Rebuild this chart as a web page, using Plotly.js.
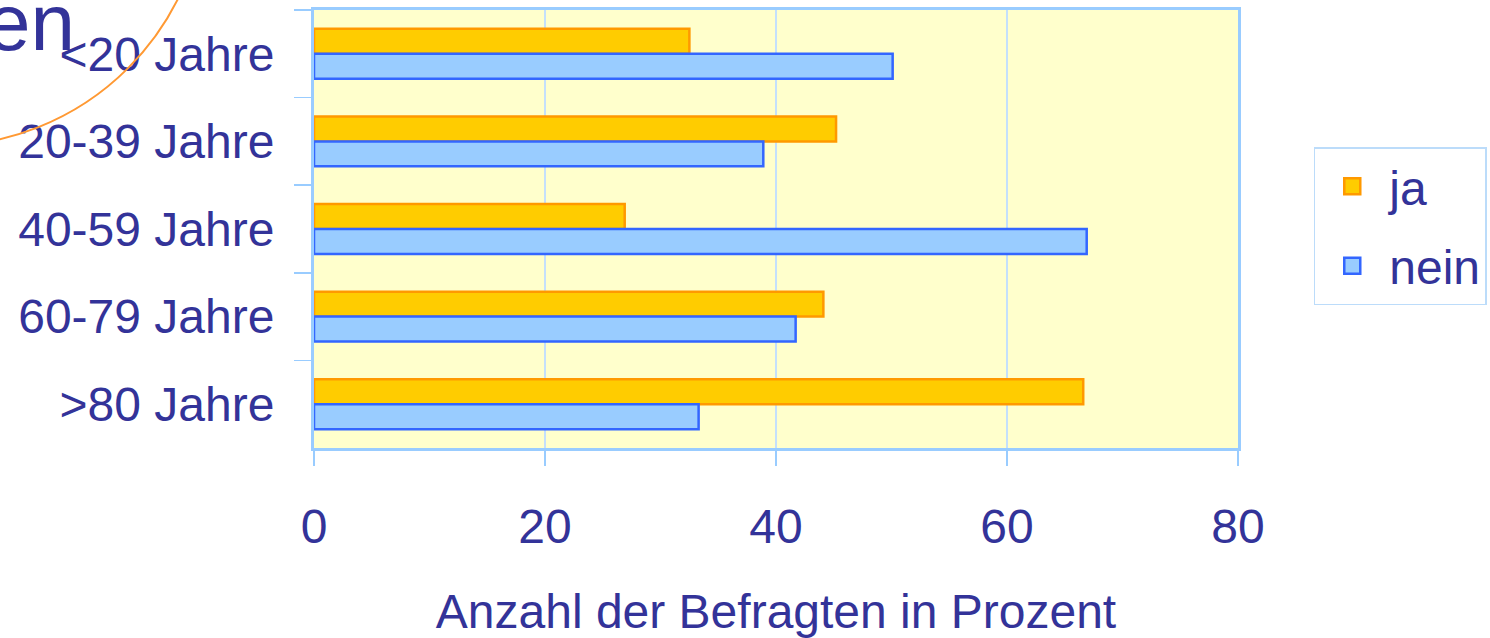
<!DOCTYPE html>
<html>
<head>
<meta charset="utf-8">
<script src="https://cdn.plot.ly/plotly-3.0.1.min.js"></script>
<style>
  html, body { margin: 0; padding: 0; background: #ffffff; }
  #chart { width: 1490px; height: 638px; }
</style>
</head>
<body>
<div id="chart"></div>
<script>
// Age groups vs. answer share (percent of respondents)

const AGE_GROUPS = ['<20 Jahre', '20-39 Jahre', '40-59 Jahre', '60-79 Jahre', '>80 Jahre'];
const JA_VALUES   = [32.5, 45.2, 26.9, 44.1, 66.6];
const NEIN_VALUES = [50.1, 38.9, 66.9, 41.7, 33.3];
const X_TICKS = [0, 20, 40, 60, 80];

const COLORS = {
    text:      '#333399',
    jaFill:    '#ffcc00',
    jaLine:    '#ff9900',
    neinFill:  '#99ccff',
    neinLine:  '#3366ff',
    plotBg:    '#ffffcc',
    frame:     '#99ccff',
    grid:      '#c4e0fb',
    arc:       '#ff9933',
};

const FONT = { family: 'Liberation Sans, Arial, sans-serif', size: 48, color: COLORS.text };

function barTrace(name, values, fill, line) {
    return {
        type: 'bar', orientation: 'h', name,
        y: AGE_GROUPS, x: values,
        marker: { color: fill, line: { color: line, width: 2.5 } },
        showlegend: false,
    };
}

// legend-only entries so the swatches can be larger squares
function legendTrace(name, fill, line, group) {
    return {
        type: 'scatter', mode: 'markers', name,
        x: [null], y: [null],
        legendgroup: group,
        marker: { symbol: 'square', size: 16, color: fill, line: { color: line, width: 2.5 } },
    };
}

const traces = [
    barTrace('ja', JA_VALUES, COLORS.jaFill, COLORS.jaLine),
    barTrace('nein', NEIN_VALUES, COLORS.neinFill, COLORS.neinLine),
    legendTrace('ja', COLORS.jaFill, COLORS.jaLine, 'g1'),
    legendTrace('nein', COLORS.neinFill, COLORS.neinLine, 'g2'),
];

// plot area in pixels: x 314..1238, y 10..448
const layout = {
    width: 1490,
    height: 638,
    margin: { l: 314, r: 252, t: 10, b: 190, pad: 0, autoexpand: false },
    paper_bgcolor: '#ffffff',
    plot_bgcolor: COLORS.plotBg,
    font: FONT,
    barmode: 'group',
    bargap: 0.43,
    bargroupgap: 0,
    xaxis: {
        range: [0, 80],
        tickvals: X_TICKS,
        ticktext: X_TICKS.map(String),
        ticks: 'outside', ticklen: 15, tickwidth: 1.5, tickcolor: COLORS.frame,
        ticklabelstandoff: 19,
        showgrid: true, gridcolor: COLORS.grid, gridwidth: 1.5,
        zeroline: false,
        showline: true, linecolor: COLORS.frame, linewidth: 3, mirror: true,
        title: { text: 'Anzahl der Befragten in Prozent', font: FONT, standoff: 49 },
        fixedrange: true,
    },
    yaxis: {
        type: 'category',
        autorange: 'reversed',
        tickson: 'boundaries',
        ticks: 'outside', ticklen: 17, tickwidth: 1.5, tickcolor: COLORS.frame,
        ticklabelstandoff: 27,
        showgrid: false,
        showline: true, linecolor: COLORS.frame, linewidth: 3, mirror: true,
        fixedrange: true,
    },
    legend: {
        x: 1.082, xanchor: 'left',
        y: 0.687, yanchor: 'top',
        bgcolor: '#ffffff',
        bordercolor: '#bcdcfa', borderwidth: 1.5,
        font: FONT,
        traceorder: 'grouped',
        tracegroupgap: 14,
        itemwidth: 64,
    },
    shapes: [
        // orange arc from the slide decoration
        {
            type: 'circle', xref: 'paper', yref: 'paper', layer: 'above',
            x0: -0.6926, x1: -0.1169, y0: 0.6895, y1: 1.904,
            line: { color: COLORS.arc, width: 2 },
        },
    ],
    annotations: [
        // cut-off slide title fragment
        {
            text: 'en', xref: 'paper', yref: 'paper', showarrow: false,
            x: (77 - 314) / 924, xanchor: 'right',
            y: (448 - 69) / 438, yanchor: 'bottom',
            font: { family: FONT.family, size: 80, color: COLORS.text },
        },
    ],
};

Plotly.newPlot('chart', traces, layout, { displayModeBar: false, staticPlot: true });
</script>
</body>
</html>
